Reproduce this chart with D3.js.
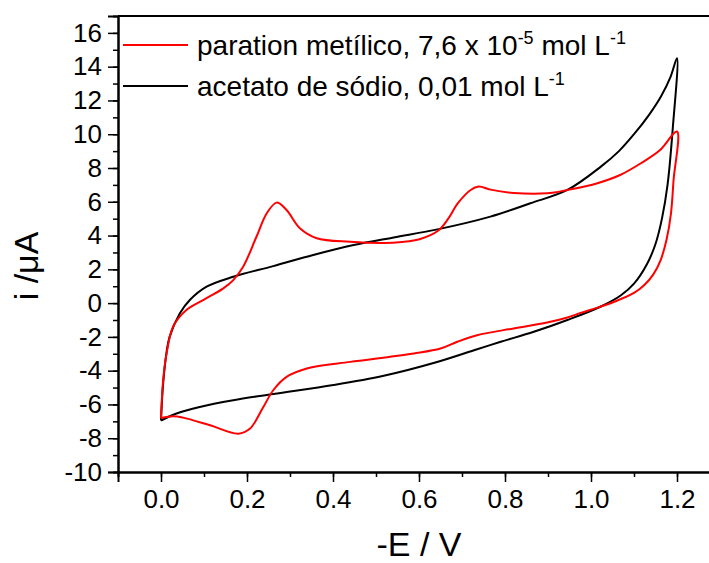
<!DOCTYPE html>
<html>
<head>
<meta charset="utf-8">
<script src="https://cdn.jsdelivr.net/npm/d3@7"></script>
<style>
  body { margin: 0; background: #fff; }
  text { font-family: Arial, "Liberation Sans", sans-serif; fill: #000; }
</style>
</head>
<body>
<div id="chart"></div>
<script>
// voltammograms: -E (V) and i (uA), forward then reverse branch
const parationFwdE = [0, 0.005, 0.013, 0.028, 0.059, 0.098, 0.145, 0.168, 0.191, 0.222, 0.246, 0.269, 0.292, 0.323, 0.362, 0.44, 0.518, 0.56, 0.603, 0.645, 0.668, 0.69, 0.72, 0.739, 0.766, 0.82, 0.898, 0.945, 1.015, 1.069, 1.116, 1.16, 1.2];
const parationFwdI = [-6.8, -4.56, -2.98, -1.4, -0.41, 0.18, 0.87, 1.36, 2.15, 3.93, 5.32, 5.95, 5.51, 4.43, 3.84, 3.63, 3.56, 3.62, 3.8, 4.3, 5.0, 5.9, 6.7, 6.9, 6.72, 6.52, 6.5, 6.7, 7.1, 7.6, 8.28, 9.05, 10.16];
const parationRevE = [1.2, 1.192, 1.186, 1.176, 1.162, 1.145, 1.124, 1.1, 1.054, 1.015, 0.976, 0.945, 0.898, 0.82, 0.735, 0.689, 0.65, 0.588, 0.533, 0.44, 0.339, 0.292, 0.261, 0.238, 0.207, 0.18, 0.114, 0.051, 0.028, 0];
const parationRevI = [10.16, 7.29, 5.32, 3.8, 2.55, 1.7, 1.07, 0.6, 0.08, -0.27, -0.58, -0.85, -1.15, -1.5, -1.9, -2.29, -2.69, -2.98, -3.18, -3.48, -3.87, -4.37, -5.16, -6.15, -7.43, -7.73, -7.23, -6.78, -6.7, -6.8];

const acetatoFwdE = [0, 0.005, 0.013, 0.02, 0.044, 0.067, 0.106, 0.168, 0.261, 0.354, 0.448, 0.541, 0.64, 0.766, 0.859, 0.945, 1.023, 1.065, 1.1, 1.135, 1.163, 1.185, 1.2];
const acetatoFwdI = [-6.95, -4.76, -2.9, -2.0, -0.6, 0.18, 0.97, 1.56, 2.19, 2.85, 3.44, 3.89, 4.35, 5.12, 5.91, 6.7, 8.08, 9.0, 10.0, 11.15, 12.25, 13.4, 14.5];
const acetatoRevE = [1.2, 1.19, 1.178, 1.165, 1.15, 1.13, 1.1, 1.069, 1.023, 0.945, 0.867, 0.79, 0.728, 0.64, 0.518, 0.401, 0.261, 0.168, 0.09, 0.036, 0];
const acetatoRevI = [14.5, 10.3, 7.0, 5.0, 3.5, 2.3, 1.15, 0.45, -0.2, -1.0, -1.7, -2.29, -2.79, -3.5, -4.3, -4.85, -5.38, -5.75, -6.15, -6.54, -6.95];

const xTicks = [0.0, 0.2, 0.4, 0.6, 0.8, 1.0, 1.2];
const yTicks = [-10, -8, -6, -4, -2, 0, 2, 4, 6, 8, 10, 12, 14, 16];

const width = 709, height = 563;
const margin = {top: 16, left: 118};
const plotW = 602, plotH = 456;

let svg = d3.select("#chart")
	.append("svg")
	.attr("width", width)
	.attr("height", height);

let g = svg.append("g")
	.attr("transform", `translate(${margin.left}, ${margin.top})`);

let x = d3.scaleLinear().domain([-0.1, 1.3]).range([0, plotW]);
let y = d3.scaleLinear().domain([-10, 17]).range([plotH, 0]);

// minor ticks first, then labelled majors
g.append("g")
	.attr("transform", `translate(0, ${plotH})`)
	.call(d3.axisBottom(x).tickValues(d3.range(0, 1.31, 0.1)).tickSize(5).tickFormat(""));
g.append("g")
	.call(d3.axisLeft(y).tickValues(d3.range(-9, 17, 1)).tickSize(5).tickFormat(""));

g.append("g")
	.attr("class", "xaxis")
	.attr("transform", `translate(0, ${plotH})`)
	.call(d3.axisBottom(x).tickValues(xTicks).tickSize(10).tickPadding(8).tickFormat(d3.format(".1f")));
g.append("g")
	.attr("class", "yaxis")
	.call(d3.axisLeft(y).tickValues(yTicks).tickSize(10).tickPadding(6).tickFormat(d => d3.format("d")(d).replace("−", "-")));

g.selectAll(".domain").attr("stroke-width", 2);
g.selectAll(".tick line").attr("stroke-width", 1.5);
g.selectAll(".xaxis text, .yaxis text").style("font-size", "26px");

// top frame line
g.append("line")
	.attr("x1", 0).attr("x2", plotW)
	.attr("y1", 0).attr("y2", 0)
	.attr("stroke", "#000").attr("stroke-width", 2);

let line = d3.line()
	.x(d => x(d[0]))
	.y(d => y(d[1]))
	.curve(d3.curveCatmullRom.alpha(0.5));

function loop(fe, fi, re, ri) {
	let pts = fe.map((e, k) => [e, fi[k]]);
	return pts.concat(re.map((e, k) => [e, ri[k]]).slice(1));
}

let series = [
	{name: "acetato", color: "#000000", pts: loop(acetatoFwdE, acetatoFwdI, acetatoRevE, acetatoRevI)},
	{name: "paration", color: "#ff0000", pts: loop(parationFwdE, parationFwdI, parationRevE, parationRevI)}
];

g.selectAll(".cv").data(series)
	.enter()
	.append("path")
	.attr("class", "cv")
	.attr("d", d => line(d.pts))
	.attr("fill", "none")
	.attr("stroke", d => d.color)
	.attr("stroke-width", 2);

// legend, superscripts raised with dy
let legend = [
	{color: "#ff0000", parts: [["paration metílico, 7,6 x 10", 0], ["-5", 1], [" mol L", 0], ["-1", 1]]},
	{color: "#000000", parts: [["acetato de sódio, 0,01 mol L", 0], ["-1", 1]]}
];

legend.forEach((item, k) => {
	let ly = 45 + k * 41;
	svg.append("line")
		.attr("x1", 123).attr("x2", 188)
		.attr("y1", ly).attr("y2", ly)
		.attr("stroke", item.color).attr("stroke-width", 2);
	let t = svg.append("text")
		.attr("x", 197).attr("y", ly + 10)
		.style("font-size", "28px");
	let raised = 0;
	item.parts.forEach(p => {
		t.append("tspan")
			.attr("dy", p[1] ? -11 - raised : -raised)
			.style("font-size", p[1] ? "18px" : "28px")
			.text(p[0]);
		raised = p[1] ? -11 : 0;
	});
});

// axis titles
svg.append("text")
	.attr("x", margin.left + x(0.6))
	.attr("y", 556)
	.style("text-anchor", "middle")
	.style("font-size", "34px")
	.text("-E / V");

svg.append("text")
	.attr("transform", `translate(38, 266) rotate(-90)`)
	.style("text-anchor", "middle")
	.style("font-size", "34px")
	.text("i /μA");
</script>
</body>
</html>
